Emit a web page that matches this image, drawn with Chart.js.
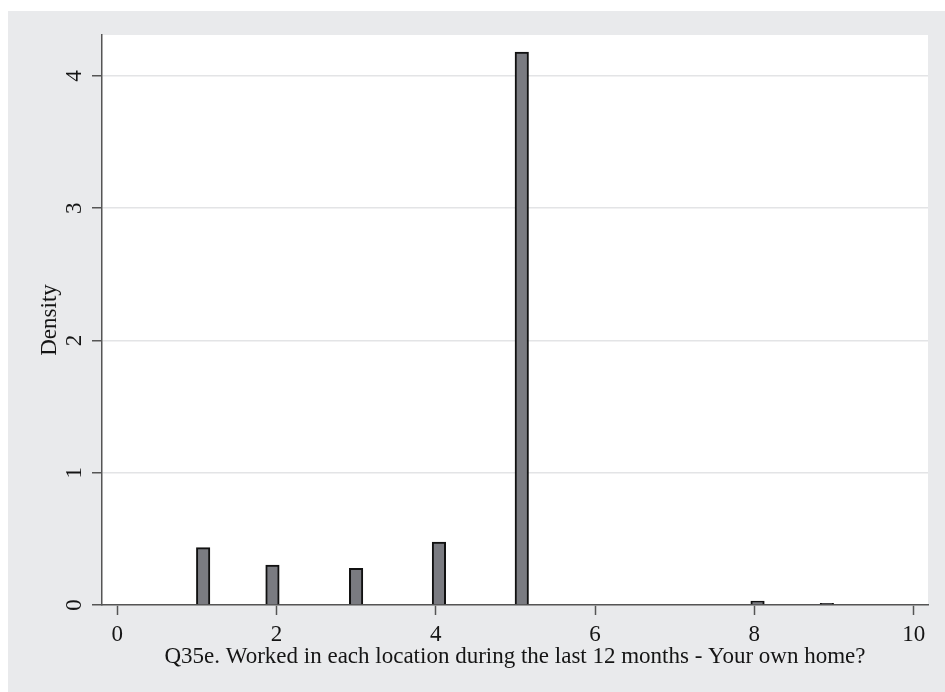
<!DOCTYPE html>
<html>
<head>
<meta charset="utf-8">
<script src="https://cdn.jsdelivr.net/npm/chart.js@4"></script>
<style>
  html, body { margin: 0; padding: 0; background: #fff; }
  #wrap { width: 945px; height: 692px; }
</style>
</head>
<body>
<div id="wrap"><canvas id="hist"></canvas></div>
<script>
// histogram bins (centres) and densities
const binCenters = [1.08, 1.95, 3.0, 4.04, 5.08, 8.04, 8.91];
const densities = [0.434, 0.302, 0.277, 0.476, 4.18, 0.03, 0.012];
const xTicks = [0, 2, 4, 6, 8, 10];
const yTicks = [0, 1, 2, 3, 4];
const xTitle = 'Q35e. Worked in each location during the last 12 months - Your own home?';
const yTitle = 'Density';

const serif = '"Liberation Serif", "Times New Roman", serif';

// stata-like backdrop: gray graph region, white plot region
const backdrop = {
    id: 'backdrop',
    beforeDraw(chart) {
        const ctx = chart.ctx, a = chart.chartArea;
        ctx.save();
        ctx.fillStyle = '#ffffff';
        ctx.fillRect(0, 0, chart.width, chart.height);
        ctx.fillStyle = '#e9eaec';
        ctx.fillRect(8, 11, chart.width - 8, chart.height - 11);
        ctx.fillStyle = '#ffffff';
        ctx.fillRect(a.left, a.top, a.right - a.left, a.bottom - a.top);
        ctx.restore();
    }
};

// tick labels and axis titles drawn by hand so they can be rotated like stata
const labels = {
    id: 'labels',
    afterDraw(chart) {
        const ctx = chart.ctx, a = chart.chartArea;
        const xs = chart.scales.x, ys = chart.scales.y;
        ctx.save();
        ctx.fillStyle = '#151515';
        ctx.font = '23px ' + serif;
        ctx.textAlign = 'center';
        ctx.textBaseline = 'middle';
        xTicks.forEach(v => ctx.fillText(String(v), xs.getPixelForValue(v), 635));
        ctx.fillText(xTitle, (a.left + a.right) / 2, 657);
        yTicks.forEach(v => {
            ctx.save();
            ctx.translate(75, ys.getPixelForValue(v));
            ctx.rotate(-Math.PI / 2);
            ctx.fillText(String(v), 0, 0);
            ctx.restore();
        });
        ctx.save();
        ctx.translate(50, (a.top + a.bottom) / 2);
        ctx.rotate(-Math.PI / 2);
        ctx.fillText(yTitle, 0, 0);
        ctx.restore();
        ctx.restore();
    }
};

new Chart(document.getElementById('hist'), {
    type: 'bar',
    data: {
        datasets: [{
            data: binCenters.map((x, i) => ({ x: x, y: densities[i] })),
            backgroundColor: '#7a7b81',
            borderColor: '#111111',
            borderWidth: 2,
            barThickness: 13.5
        }]
    },
    options: {
        responsive: true,
        maintainAspectRatio: false,
        animation: false,
        layout: { padding: { left: 0, top: 35, right: 17, bottom: 0 } },
        plugins: { legend: { display: false }, tooltip: { enabled: false } },
        scales: {
            x: {
                type: 'linear',
                offset: false,
                min: -0.19,
                max: 10.18,
                afterBuildTicks: s => { s.ticks = xTicks.map(v => ({ value: v })); },
                afterFit: s => { s.height = 87; },
                ticks: { display: false },
                grid: { offset: false, drawOnChartArea: false, tickLength: 10, tickColor: '#555', tickWidth: 1.5 },
                border: { color: '#555', width: 1.5 }
            },
            y: {
                min: 0,
                max: 4.31,
                afterBuildTicks: s => { s.ticks = yTicks.map(v => ({ value: v })); },
                afterFit: s => { s.width = 102; },
                ticks: { display: false },
                grid: { color: '#e3e4e6', lineWidth: 1.5, tickLength: 10, tickColor: '#555', tickWidth: 1.5 },
                border: { color: '#555', width: 1.5 }
            }
        }
    },
    plugins: [backdrop, labels]
});
</script>
</body>
</html>
